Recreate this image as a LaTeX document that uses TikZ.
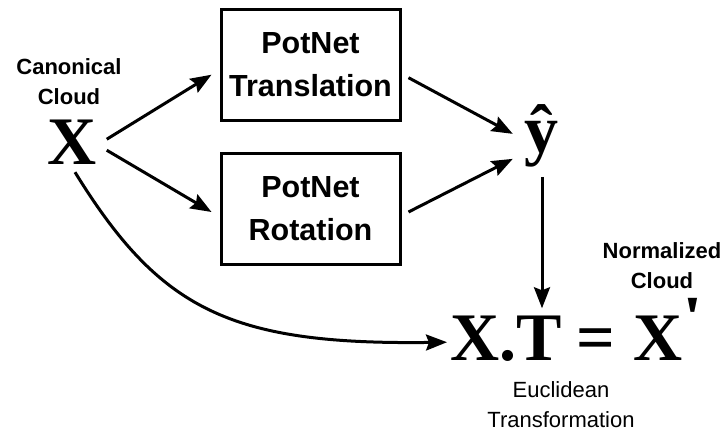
\documentclass[tikz,border=0pt]{standalone}
\usepackage{fontspec}
\usepackage{graphicx}
\setmainfont{Liberation Serif}
\newfontfamily\lsans{Liberation Sans}
\usetikzlibrary{arrows.meta,calc}
\begin{document}
\begin{tikzpicture}[x=1pt,y=-1pt,
  big/.style={font=\bfseries\fontsize{68}{68}\selectfont, inner sep=0pt},
  lab/.style={font=\lsans\bfseries\fontsize{22}{30}\selectfont, align=center, inner sep=0pt},
  nlab/.style={font=\lsans\fontsize{22}{30}\selectfont, align=center, inner sep=0pt},
  netbox/.style={draw, line width=3pt, minimum width=179pt, minimum height=111pt, align=center, inner sep=0pt, font=\lsans\bfseries\fontsize{30.5}{43}\selectfont},
  arr/.style={line width=3pt, -{Stealth[length=21pt,width=16pt,inset=3pt]}},
]
\useasboundingbox (0,0) rectangle (724,435);

\node[big, anchor=base] (X) at (72,165) {X};
\node[lab] (canon) at (69,81.3) {Canonical\\Cloud};
\node[netbox] (tr) at (310.5,64.7) {PotNet\\Translation};
\node[netbox] (rot) at (310.5,209) {PotNet\\Rotation};
\node[big, anchor=base] (yh) at (541,153) {ŷ};
\node[big, anchor=base west] (eqX) at (450,361) {X.};
\node[big, anchor=base west] (eqT) at (eqX.base east) {T};
\node[big, anchor=base] (eqs) at (596,361) {=};
\node[big, anchor=base west] (Xp) at (633,361) {X\raisebox{23.5pt}{\scalebox{1.1}[0.88]{\textquotesingle}}};
\node[lab] (norm) at (662,265.3) {Normalized\\Cloud};
\node[nlab] (eucl) at (561,405) {Euclidean\\Transformation};

\draw[arr] ($(X.east)+(10,-3.5)$) -- ($(tr.west)+(-8,10)$);
\draw[arr] ($(X.east)+(10,7.5)$) -- ($(rot.west)+(-8,3)$);
\draw[arr] ($(tr.east)+(7,13)$) -- ($(yh.west)+(-11,-2.5)$);
\draw[arr] ($(rot.east)+(7,3)$) -- ($(yh.west)+(-11,22.5)$);
\coordinate (ys) at ($(yh.south)+(1,9)$);
\coordinate (te) at ($(eqT.north)+(0,-8)$);
\draw[arr] (ys) -- (ys |- te);
\draw[arr] ($(X.south)+(3,7)$) .. controls (160,310) and (230,345) .. ($(eqX.west)+(-3,3)$);
\end{tikzpicture}
\end{document}
